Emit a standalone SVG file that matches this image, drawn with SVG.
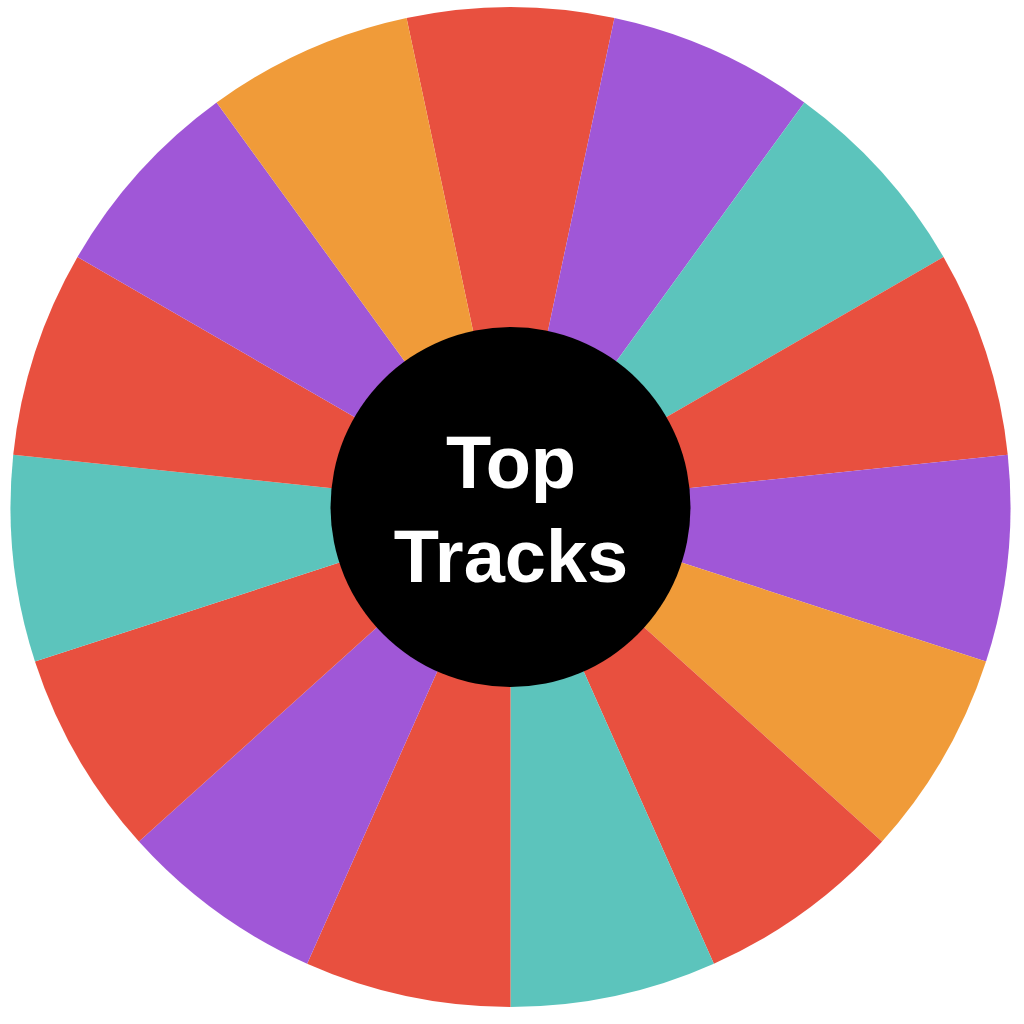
<svg xmlns="http://www.w3.org/2000/svg" width="1024" height="1024" viewBox="0 0 1024 1024">
<style>
.red{fill:#E8503F}.purple{fill:#A057D7}.teal{fill:#5CC4BC}.orange{fill:#F09B39}
.label{font-family:"Liberation Sans",Arial,sans-serif;font-weight:bold;font-size:74px;fill:#fff;text-anchor:middle}
</style>
<rect width="1024" height="1024" fill="#fff"/>
<g id="wheel" transform="translate(510.5 507)">
<path class="red" d="M0 0L-103.96 -489.07A500 500 0 0 1 103.96 -489.07Z"/>
<path class="purple" d="M0 0L103.96 -489.07A500 500 0 0 1 293.89 -404.51Z"/>
<path class="teal" d="M0 0L293.89 -404.51A500 500 0 0 1 433.01 -250Z"/>
<path class="red" d="M0 0L433.01 -250A500 500 0 0 1 497.26 -52.26Z"/>
<path class="purple" d="M0 0L497.26 -52.26A500 500 0 0 1 475.53 154.51Z"/>
<path class="orange" d="M0 0L475.53 154.51A500 500 0 0 1 371.57 334.57Z"/>
<path class="red" d="M0 0L371.57 334.57A500 500 0 0 1 203.37 456.77Z"/>
<path class="teal" d="M0 0L203.37 456.77A500 500 0 0 1 0 500Z"/>
<path class="red" d="M0 0L0 500A500 500 0 0 1 -203.37 456.77Z"/>
<path class="purple" d="M0 0L-203.37 456.77A500 500 0 0 1 -371.57 334.57Z"/>
<path class="red" d="M0 0L-371.57 334.57A500 500 0 0 1 -475.53 154.51Z"/>
<path class="teal" d="M0 0L-475.53 154.51A500 500 0 0 1 -497.26 -52.26Z"/>
<path class="red" d="M0 0L-497.26 -52.26A500 500 0 0 1 -433.01 -250Z"/>
<path class="purple" d="M0 0L-433.01 -250A500 500 0 0 1 -293.89 -404.51Z"/>
<path class="orange" d="M0 0L-293.89 -404.51A500 500 0 0 1 -103.96 -489.07Z"/>
</g>
<g id="center">
<circle cx="510.5" cy="507" r="180" fill="#000"/>
<text class="label" x="511" y="488">Top</text>
<text class="label" x="511" y="582">Tracks</text>
</g>
</svg>
